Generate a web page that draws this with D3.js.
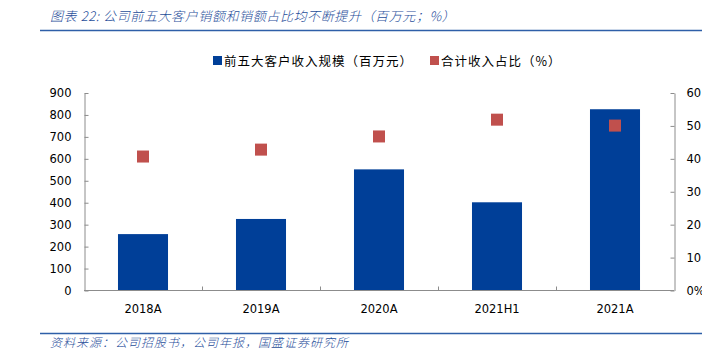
<!DOCTYPE html>
<html>
<head>
<meta charset="utf-8">
<script src="https://cdn.jsdelivr.net/npm/d3@7"></script>
<style>
  body { margin: 0; background: #fff; }
  svg text { font-family: "DejaVu Sans", Verdana, sans-serif; }
  .cjk { font-family: "Noto Sans CJK SC", sans-serif; }
</style>
</head>
<body>
<div id="chart"></div>
<script>
// data
const categories = ['2018A', '2019A', '2020A', '2021H1', '2021A'];
const revenue = [257, 326, 552, 402, 826];      // 前五大客户收入规模（百万元）
const share = [40.7, 42.8, 46.8, 51.9, 50.1];    // 合计收入占比（%）
const leftTicks = [0, 100, 200, 300, 400, 500, 600, 700, 800, 900];
const rightTicks = [0, 10, 20, 30, 40, 50, 60];

const W = 723, H = 354;
const svg = d3.select('#chart').append('svg').attr('width', W).attr('height', H);

const blue = '#003F98', red = '#C0504D', axisCol = '#8c8c8c', titleCol = '#1F4E9A';

// everything right of x=702 is cut off in the original
svg.append('clipPath').attr('id', 'cut').append('rect')
  .attr('x', 0).attr('y', 0).attr('width', 702).attr('height', H);
const root = svg.append('g').attr('clip-path', 'url(#cut)');

// title + rules
root.append('text').attr('class', 'cjk').attr('x', 50).attr('y', 21)
  .style('font-size', '13px').style('font-style', 'italic').style('font-weight', 300)
  .style('letter-spacing', '0.6px').style('fill', titleCol)
  .text('图表 22:  公司前五大客户销额和销额占比均不断提升（百万元；%）');
root.append('line').attr('x1', 40).attr('x2', 702).attr('y1', 30.5).attr('y2', 30.5)
  .attr('stroke', '#2E5FA8').attr('stroke-width', 1.5);
root.append('line').attr('x1', 40).attr('x2', 702).attr('y1', 333.5).attr('y2', 333.5)
  .attr('stroke', '#2E5FA8').attr('stroke-width', 1.5);
root.append('text').attr('class', 'cjk').attr('x', 50).attr('y', 347)
  .style('font-size', '12px').style('font-style', 'italic').style('font-weight', 300)
  .style('letter-spacing', '1px').style('fill', titleCol)
  .text('资料来源：公司招股书，公司年报，国盛证券研究所');

// scales
const x = d3.scaleBand().domain(categories).range([84, 674]).paddingInner(0.576).paddingOuter(0.288);
const y = d3.scaleLinear().domain([0, 900]).range([290.5, 93]);
const y2 = d3.scaleLinear().domain([0, 60]).range([290.5, 93]);

// bars
root.selectAll('rect.bar').data(revenue).enter().append('rect')
  .attr('class', 'bar')
  .attr('x', (d, i) => x(categories[i]))
  .attr('width', x.bandwidth())
  .attr('y', d => y(d))
  .attr('height', d => y(0) - y(d))
  .attr('fill', blue);

// squares
const sq = 12;
root.selectAll('rect.pt').data(share).enter().append('rect')
  .attr('class', 'pt')
  .attr('x', (d, i) => x(categories[i]) + x.bandwidth() / 2 - sq / 2)
  .attr('y', d => y2(d) - sq / 2)
  .attr('width', sq).attr('height', sq)
  .attr('fill', red);

// axes
const styleAxis = g => {
  g.select('.domain').attr('stroke', axisCol);
  g.selectAll('.tick line').attr('stroke', axisCol);
  g.selectAll('.tick text').style('font-size', '11.5px').attr('fill', '#000');
};

root.append('g').attr('transform', 'translate(84.5,0)')
  .call(d3.axisLeft(y).tickValues(leftTicks).tickSize(-4).tickSizeOuter(0).tickPadding(13))
  .call(styleAxis);

root.append('g').attr('transform', 'translate(674.5,0)')
  .call(d3.axisRight(y2).tickValues(rightTicks).tickSize(-4).tickSizeOuter(0).tickPadding(12)
    .tickFormat(d => d === 0 ? '0%' : d))
  .call(styleAxis);

// x axis: ticks at band boundaries
const xg = root.append('g').attr('transform', 'translate(0,290.5)');
xg.append('line').attr('x1', 84).attr('x2', 674).attr('stroke', axisCol);
xg.selectAll('line.sep').data(categories.slice(1)).enter().append('line')
  .attr('class', 'sep')
  .attr('x1', d => Math.round(x(d) - x.step() * x.paddingInner() / 2) + 0.5)
  .attr('x2', d => Math.round(x(d) - x.step() * x.paddingInner() / 2) + 0.5)
  .attr('y1', 0).attr('y2', -4).attr('stroke', axisCol);
xg.selectAll('text').data(categories).enter().append('text')
  .attr('x', d => x(d) + x.bandwidth() / 2)
  .attr('y', 22)
  .attr('text-anchor', 'middle')
  .style('font-size', '11.5px')
  .text(d => d);

// legend
const legend = [
  { label: '前五大客户收入规模（百万元）', color: blue, x: 213 },
  { label: '合计收入占比（%）', color: red, x: 430 }
];
const lg = root.selectAll('g.lg').data(legend).enter().append('g')
  .attr('transform', d => `translate(${d.x},61)`);
lg.append('rect').attr('x', 0).attr('y', -5).attr('width', 9).attr('height', 9).attr('fill', d => d.color);
lg.append('text').attr('class', 'cjk').attr('x', 11).attr('y', 4.5)
  .style('font-size', '12.5px').style('letter-spacing', '1px').text(d => d.label);
</script>
</body>
</html>
